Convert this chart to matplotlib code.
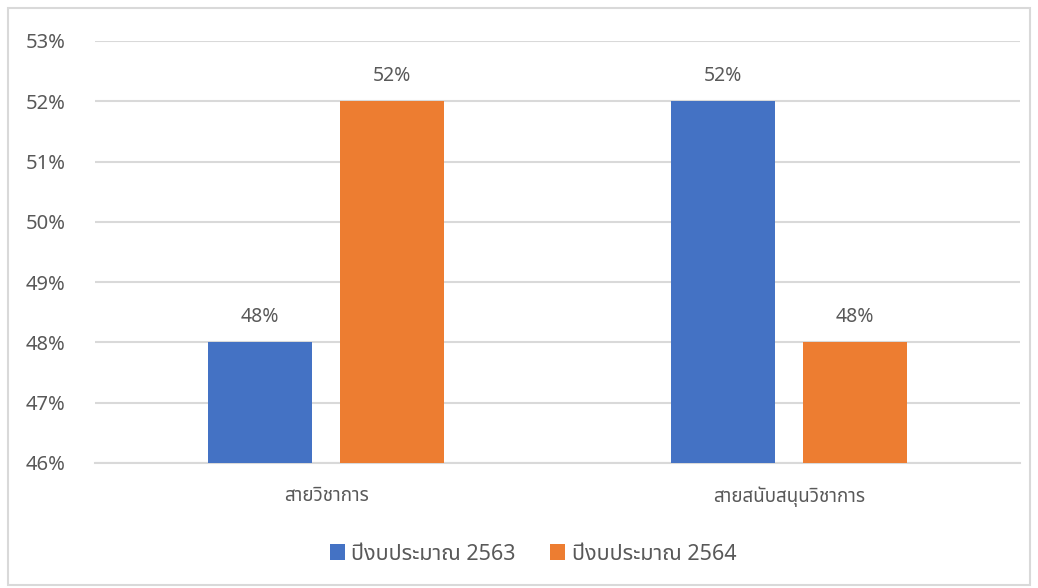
import matplotlib
matplotlib.use('Agg')
import matplotlib.pyplot as plt
from matplotlib import font_manager
from matplotlib.ft2font import FT2Font
from matplotlib.patches import Rectangle
import numpy as np

categories = ["สายวิชาการ", "สายสนับสนุนวิชาการ"]
series_names = ["ปีงบประมาณ 2563", "ปีงบประมาณ 2564"]
values_2563 = [48, 52]
values_2564 = [52, 48]
colors = ["#4472c4", "#ed7d31"]

PREFERRED = ["Noto Sans Thai", "Noto Sans Thai UI", "Sarabun", "Loma", "Garuda",
             "Waree", "Umpush", "Laksaman", "Norasi", "Kinnari", "Sawasdee"]


def find_thai_font():
    # pick an installed font that covers every Thai char we draw,
    # preferring a proportional sans one
    needed = {ord(c) for s in categories + series_names for c in s if ord(c) > 0x0E00}
    found = {}
    for path in font_manager.findSystemFonts():
        try:
            cmap = FT2Font(path).get_charmap()
        except Exception:  # pylint: disable=broad-except
            continue
        if needed.issubset(cmap):
            name = font_manager.FontProperties(fname=path).get_name()
            found[name] = path
    for want in PREFERRED:
        if want in found:
            return want
    for name in found:
        low = name.lower()
        if "mono" not in low and "typo" not in low and "typist" not in low:
            return name
    return next(iter(found), None)


thai = find_thai_font()
families = ["Noto Sans", thai] if thai else ["Noto Sans", "DejaVu Sans"]
plt.rcParams['font.family'] = families

grey = "#595959"
grid = "#d9d9d9"

fig = plt.figure(figsize=(10.38, 5.88), dpi=100)
ax = fig.add_axes([95 / 1038, 1 - 463 / 588, 925 / 1038, 422 / 588])

x = np.arange(len(categories))
width = 0.225
offset = 0.143
b1 = ax.bar(x - offset, values_2563, width, color=colors[0], label=series_names[0], zorder=3)
b2 = ax.bar(x + offset, values_2564, width, color=colors[1], label=series_names[1], zorder=3)

for bars in (b1, b2):
    for rect in bars:
        h = rect.get_height()
        ax.annotate(f"{h:.0f}%", xy=(rect.get_x() + rect.get_width() / 2, h),
                    xytext=(0, 11), textcoords="offset points",
                    ha="center", va="bottom", fontsize=14, color=grey)

ax.set_ylim(46, 53)
ax.set_xlim(-0.5, 1.5)
ax.set_yticks(range(46, 54))
ax.set_yticklabels([f"{v}%" for v in range(46, 54)])
ax.set_xticks(x)
ax.set_xticklabels(categories)
ax.tick_params(axis="y", length=0, pad=21, labelsize=14.5, labelcolor=grey)
ax.tick_params(axis="x", length=0, pad=17, labelsize=13.5, labelcolor=grey)
ax.grid(axis="y", color=grid, linewidth=1.5, zorder=0)
for side in ("top", "right", "left"):
    ax.spines[side].set_visible(False)
ax.spines["bottom"].set_color(grid)
ax.spines["bottom"].set_linewidth(1.5)

leg = fig.legend(handles=[b1, b2], labels=series_names, loc="center",
                 bbox_to_anchor=(533 / 1038, 1 - 554 / 588), ncol=2, frameon=False,
                 fontsize=15.5, handlelength=0.7, handleheight=0.7,
                 handletextpad=0.3, columnspacing=1.6)
for t in leg.get_texts():
    t.set_color(grey)

fig.patches.append(Rectangle((8 / 1038, 3 / 588), 1022 / 1038, 577 / 588,
                             transform=fig.transFigure, fill=False,
                             edgecolor=grid, linewidth=1.5))

fig.savefig("out.png", dpi=100, facecolor="white")
